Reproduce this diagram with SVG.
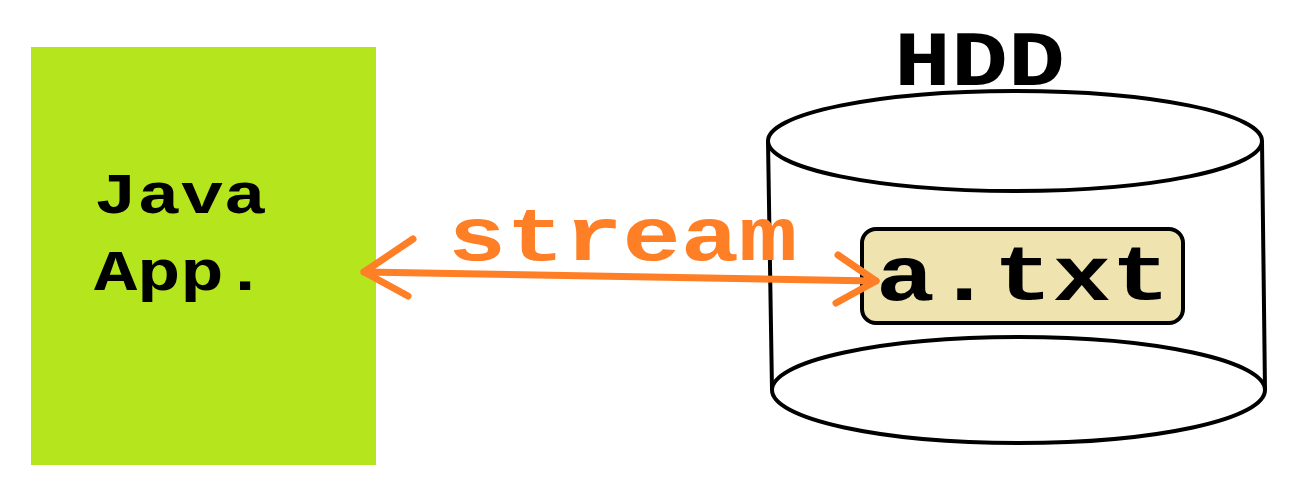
<svg xmlns="http://www.w3.org/2000/svg" width="1310" height="498" viewBox="0 0 1310 498">
<style>
.mono{font-family:"Liberation Mono","Courier New",monospace;font-weight:bold}
.blk{fill:#000}
.out{fill:none;stroke:#000;stroke-width:4}
.arr{fill:none;stroke:#FF7F27;stroke-width:7;stroke-linecap:round;stroke-linejoin:round}
</style>
<rect width="1310" height="498" fill="#fff"/>
<g id="java-app">
<rect x="31" y="47" width="345" height="418" fill="#B5E61D"/>
<text class="mono blk" font-size="72" transform="translate(94,213) scale(1,0.8)">Java</text>
<text class="mono blk" font-size="72" transform="translate(94,290) scale(1,0.8)">App.</text>
</g>
<g id="hdd">
<path class="out" d="M768,141 L772,390 M1262,141 L1265,390"/>
<ellipse class="out" cx="1015" cy="141" rx="247" ry="50" fill="#fff"/>
<path class="out" d="M772,390 A246.5,53 0 0 0 1265,390 A246.5,53 0 0 0 772,390 Z"/>
<text class="mono blk" font-size="95" transform="translate(894,85) scale(1,0.82)">HDD</text>
</g>
<g id="a-txt">
<rect x="862" y="229" width="321" height="94" rx="14" fill="#EFE4B0" stroke="#000" stroke-width="4"/>
<text class="mono blk" font-size="98" transform="translate(876,300) scale(1,0.8)">a.txt</text>
</g>
<g id="connectors">
<path class="arr" d="M364,272 L876,281"/>
<path class="arr" d="M413,239 L364,272 L408,296"/>
<path class="arr" d="M838,255 L876,281 L836,303"/>
<text class="mono" font-size="97" fill="#FF7F27" transform="translate(448,260) scale(1,0.78)">stream</text>
</g>
</svg>
